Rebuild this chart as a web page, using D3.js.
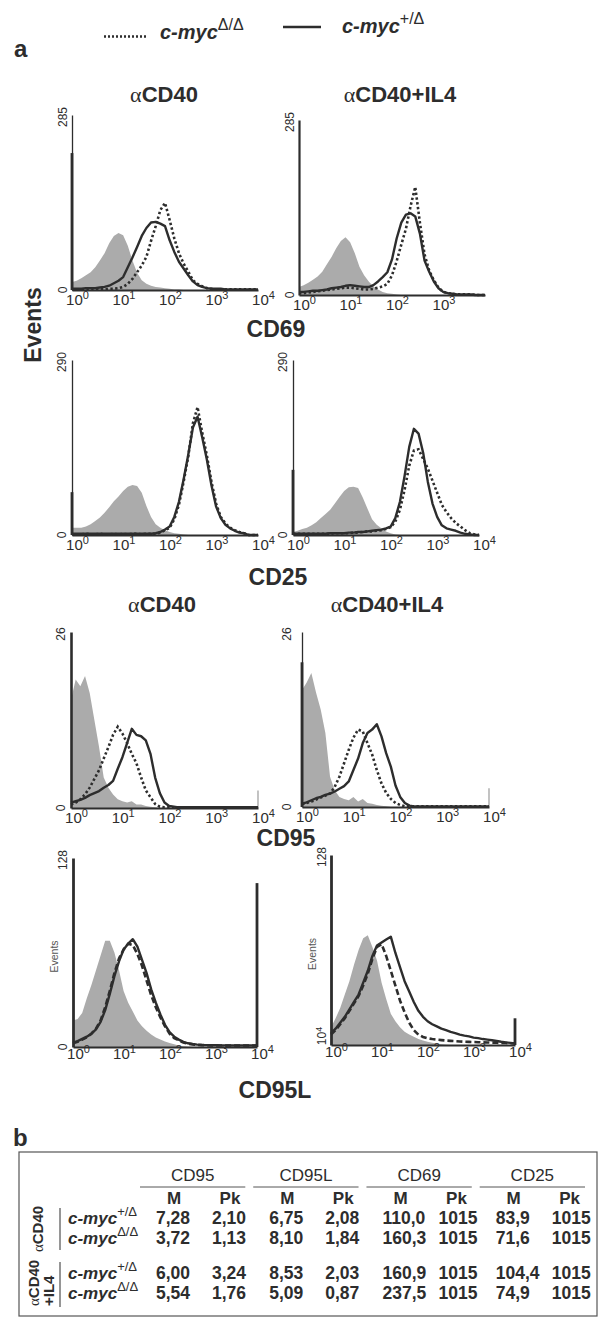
<!DOCTYPE html>
<html><head><meta charset="utf-8">
<script src="https://cdn.jsdelivr.net/npm/d3@7"></script>
<style>body{margin:0;background:#fff}svg{display:block}</style>
</head><body>
<svg id="c" width="600" height="1320"></svg>
<script>
// ---------- DATA ----------
// fluorescence channel grid (log10 units, 10^0 .. 10^4)
const logGrid = [0,0.1,0.2,0.3,0.4,0.5,0.6,0.7,0.8,0.9,1,1.1,1.2,1.3,1.4,1.5,1.6,1.7,1.8,1.9,2,2.1,2.2,2.3,2.4,2.5,2.6,2.7,2.8,2.9,3,3.1,3.2,3.3,3.4,3.5,3.6,3.7,3.8,3.9,4];
const decadeTicks = [0,1,2,3,4];
const decadeTicksNo4 = [0,1,2,3];
const conditions = ["αCD40","αCD40+IL4"];
const markers = ["CD69","CD25","CD95","CD95L"];
const genotypes = ["Δ/Δ","+/Δ"];

// CD69, αCD40
const cd69_a_iso = [13,15,19,24,29,37,48,60,76,88, 93,89,72,48,28,16,10,7,5,4, 3,2,1,1,0,0,0,0,0,0, 0,0,0,0,0,0,0,0,0,0,0];
const cd69_a_het = [2,2,2,3,3,3,4,5,7,11, 15,21,37,53,70,88,101,110,111,108, 104,81,62,46,35,24,14,8,5,3, 2,2,2,1,1,1,1,1,1,1,1];
const cd69_a_ko  = [1,1,1,1,1,1,1,1,2,2, 3,5,10,18,29,40,54,80,104,130, 142,114,84,60,43,30,16,10,6,3, 2,1,1,1,1,1,1,1,1,1,1];
// CD69, αCD40+IL4
const cd69_ai_iso = [13,16,20,25,30,38,50,62,76,88, 94,86,68,46,32,22,14,9,5,3, 2,1,0,0,0,0,0,0,0,0, 0,0,0,0,0,0,0,0,0,0,0];
const cd69_ai_het = [5,5,6,7,7,8,9,11,12,13, 15,16,15,14,13,13,16,22,29,37, 58,92,118,131,133,128,100,56,38,22, 11,5,3,2,1,1,1,1,0,0,0];
const cd69_ai_ko  = [3,3,4,5,6,7,8,9,10,11, 12,12,11,10,9,9,10,12,14,18, 32,55,82,108,145,176,118,66,40,24, 12,5,3,2,1,1,1,1,0,0,0];
// CD25, αCD40
const cd25_a_iso = [12,12,12,14,18,23,29,37,46,56, 64,73,80,83,81,70,48,30,18,12, 8,5,3,2,1,0,0,0,0,0, 0,0,0,0,0,0,0,0,0,0,0];
const cd25_a_het = [2,2,2,2,2,2,2,2,2,2, 2,2,2,2,2,2,2,2,3,5, 9,14,30,55,92,133,178,196,162,125, 82,47,28,17,11,7,4,3,0,0,0];
const cd25_a_ko  = [1,1,1,2,1,1,2,1,1,2, 1,2,1,2,2,1,2,2,2,4, 8,12,26,50,88,130,185,212,170,132, 88,52,30,19,12,8,5,3,0,0,0];
// CD25, αCD40+IL4
const cd25_ai_iso = [5,7,10,12,16,21,28,35,42,52, 63,73,79,80,78,62,44,26,17,11, 6,3,1,0,0,0,0,0,0,0, 0,0,0,0,0,0,0,0,0,0,0];
const cd25_ai_het = [2,2,2,2,2,2,2,2,3,3, 3,3,4,4,5,5,6,7,8,9, 11,14,28,55,98,146,176,168,136,88, 52,30,16,11,9,7,4,2,1,0,0];
const cd25_ai_ko  = [2,2,2,2,2,2,2,2,2,3, 3,3,3,4,4,5,6,6,7,8, 10,13,22,42,75,115,140,142,126,110, 90,70,50,38,28,20,14,8,3,1,0];
// CD95, αCD40
const cd95_a_iso = [16,19,18,19.5,17,13,9,4.5,3,2, 1.3,1,0.8,1,0.5,0.5,0.3,0.2,0.1,0, 0,0,0,0,0,0,0,0,0,0, 0,0,0,0,0,0,0,0,0,0,0];
const cd95_a_het = [0.8,1,1.2,1.5,1.9,2.2,2.5,3,3.4,4, 5.8,7.5,9.6,11.7,10.8,10.6,10,8,4.5,2.2, 0.8,0.3,0.2,0.1,0.1,0.1,0.1,0.1,0.1,0.1, 0.1,0.1,0.1,0.1,0.1,0.1,0.1,0.1,0.1,0.1,0.1];
const cd95_a_ko  = [0.5,0.8,1.3,2,3,4.3,5.6,7.3,9,10.8, 12,11,9.6,8,6.6,4.5,2.6,1.6,0.6,0.2, 0.1,0.1,0.1,0.1,0.1,0.1,0.1,0.1,0.1,0.1, 0.1,0.1,0.1,0.1,0.1,0.1,0.1,0.1,0.1,0.1,0.1];
// CD95, αCD40+IL4
const cd95_ai_iso = [17.4,18.5,19.9,17,14.5,11,4.5,2.5,1.5,1.2, 1,1.5,0.8,1.2,0.6,0.5,0.3,0.2,0.1,0, 0,0,0,0,0,0,0,0,0,0, 0,0,0,0,0,0,0,0,0,0,0];
const cd95_ai_het = [0.5,0.7,1,1.3,1.5,1.8,2,2.3,2.7,3.1, 3.8,5.5,7.2,9.5,11,11.5,12.3,10.5,8,6, 3.2,1.5,0.6,0.2,0.1,0.1,0.1,0.1,0.1,0.1, 0.1,0.1,0.1,0.1,0.1,0.1,0.1,0.1,0.1,0.1,0.1];
const cd95_ai_ko  = [0.4,0.6,0.8,1.1,1.4,1.7,2,3,4.5,6.5, 8.5,10.3,11.5,11.2,9.5,7.8,5.5,3.5,2.1,1.2, 0.6,0.3,0.1,0.1,0.1,0.1,0.1,0.1,0.1,0.1, 0.1,0.1,0.1,0.1,0.1,0.1,0.1,0.1,0.1,0.1,0.1];
// CD95L, αCD40
const cd95l_a_iso = [18,19,23,33,42,52,62,72,72,64, 52,38,30,24,18,14,11,8.5,6.5,5, 3.8,2.7,1.8,1,0.5,0.2,0,0,0,0, 0,0,0,0,0,0,0,0,0,0,0];
const cd95l_a_het = [3,4,5.5,7,9,12,17,25,36,48, 58,66,70,73,68,59,50,39,30,22, 15,10,7,5,3.5,2.5,2,1.6,1.4,1.3, 1.2,1.2,1.1,1.1,1,1,1,1,1,1,1];
const cd95l_a_ko  = [2.5,3.5,5,6.5,9,12.5,18,27,38,50, 60,66,70,69,63,55,45,35,27,20, 14,9,6,4.5,3,2.2,1.8,1.5,1.3,1.2, 1.1,1.1,1,1,1,1,1,1,1,1,1];
// CD95L, αCD40+IL4
const cd95l_ai_iso = [12,18,25,34,43,54,64,72,74,66, 57,42,31,21,16,12,9,7,5.5,4, 3,2.2,1.5,1,0.5,0.2,0,0,0,0, 0,0,0,0,0,0,0,0,0,0,0];
const cd95l_ai_het = [8,11,15,19,24,29,34,42,50,60, 67,69,71,73,62,52.5,43,36,29,23, 19,16,14,12.5,11,10,8.8,8,7,6.3, 5.8,5,4.6,4,3.6,3.2,2.7,2.2,1.8,1.4,1];
const cd95l_ai_ko  = [7,10,14,18,23,28,33,40,48,58, 66,68,60,50,40,30,22,15,10,7, 5.4,4.5,4,3.6,3.3,3,2.8,2.6,2.4,2.2, 2.1,2,1.9,1.8,1.7,1.6,1.5,1.4,1.3,1.2,1];

// full-scale event counts per panel, first-channel and last-channel pile-ups
const panelMax   = [285,285,290,290,26,26,128,128];
const firstSpike = [223,0,71,108,0,21.5,0,0];
const lastSpike  = [0,0,0,0,2.6,2.8,111,18];

// table (b)
const tableMarkers = ["CD95","CD95L","CD69","CD25"];
const tableStats = ["M","Pk"];
const tableTreatments = ["αCD40","αCD40+IL4"];
const tableGenotypes = ["+/Δ","Δ/Δ","+/Δ","Δ/Δ"];
const row_aCD40_het  = ["7,28","2,10","6,75","2,08","110,0","1015","83,9","1015"];
const row_aCD40_ko   = ["3,72","1,13","8,10","1,84","160,3","1015","71,6","1015"];
const row_aIL4_het   = ["6,00","3,24","8,53","2,03","160,9","1015","104,4","1015"];
const row_aIL4_ko    = ["5,54","1,76","5,09","0,87","237,5","1015","74,9","1015"];

// ---------- LAYOUT / STYLE ----------
const FONT = "'Liberation Sans', Arial, Helvetica, sans-serif";
const SERIF = "'Liberation Serif', 'Times New Roman', serif";
const INK = "#2d2d2d";
const GRAY = "#ababab";
const svg = d3.select("#c");

const panels = [
  {x0:72, x1:258, yT:115, yB:290, lab:63, axw:1.3, ticks:decadeTicks, tdy:15, iso:cd69_a_iso, het:cd69_a_het, ko:cd69_a_ko, dash:"2.4,2.4"},
  {x0:299,x1:485, yT:120, yB:295, lab:290,axw:2.2, ticks:decadeTicksNo4, tdy:15, iso:cd69_ai_iso, het:cd69_ai_het, ko:cd69_ai_ko, dash:"2.4,2.4"},
  {x0:72, x1:258, yT:360, yB:535, lab:62, axw:1.3, ticks:decadeTicks, tdy:15, iso:cd25_a_iso, het:cd25_a_het, ko:cd25_a_ko, dash:"2.4,2.4"},
  {x0:293,x1:479, yT:360, yB:535, lab:283,axw:1.3, ticks:decadeTicks, tdy:15, iso:cd25_ai_iso, het:cd25_ai_het, ko:cd25_ai_ko, dash:"2.4,2.4"},
  {x0:71, x1:258, yT:632, yB:808, lab:61, axw:2.6, ticks:decadeTicks, tdy:15, iso:cd95_a_iso, het:cd95_a_het, ko:cd95_a_ko, dash:"2.4,2.4"},
  {x0:302,x1:489, yT:632, yB:807, lab:287,axw:1.3, ticks:decadeTicks, tdy:15, iso:cd95_ai_iso, het:cd95_ai_het, ko:cd95_ai_ko, dash:"2.4,2.4"},
  {x0:73, x1:257, yT:858, yB:1047,lab:63, axw:2.8, ticks:decadeTicks, tdy:12, iso:cd95l_a_iso, het:cd95l_a_het, ko:cd95l_a_ko, dash:"6,3", events:54},
  {x0:331,x1:515, yT:855, yB:1045,lab:322,axw:2.8, ticks:decadeTicks, tdy:12, iso:cd95l_ai_iso, het:cd95l_ai_het, ko:cd95l_ai_ko, dash:"6,3", events:312, minLog:true}
];

function supText(sel, base, sup, o) {
  sel.append("tspan").text(base);
  sel.append("tspan").attr("dy", o.dy).attr("font-size", o.size)
     .attr("font-weight", o.w || "normal").attr("font-style", o.st || "normal").text(sup);
}

panels.forEach((p, i) => {
  const ymax = panelMax[i];
  const x = d3.scaleLinear().domain([0, 4]).range([p.x0, p.x1]);
  const y = d3.scaleLinear().domain([0, ymax]).range([p.yB, p.yT]);
  const g = svg.append("g");

  const area = d3.area().x((v, k) => x(logGrid[k])).y0(y(0)).y1(v => y(v));
  g.append("path").datum(p.iso).attr("d", area).attr("fill", GRAY);

  // last channel pile-up
  if (lastSpike[i] > 0) {
    const dark = lastSpike[i] > 10;
    g.append("line").attr("x1", x(4)).attr("x2", x(4)).attr("y1", y(0)).attr("y2", y(lastSpike[i]))
      .attr("stroke", dark ? INK : "#9a9a9a").attr("stroke-width", dark ? 2.8 : 1.2);
  }

  // axes
  const ya = d3.axisLeft(y).tickValues([]).tickSizeOuter(0);
  const gy = g.append("g").attr("transform", `translate(${p.x0},0)`).call(ya);
  gy.select(".domain").attr("stroke", INK).attr("stroke-width", p.axw);
  if (firstSpike[i] > 0) {
    g.append("line").attr("x1", x(0)).attr("x2", x(0)).attr("y1", y(0)).attr("y2", y(firstSpike[i]))
      .attr("stroke", INK).attr("stroke-width", 2.8);
  }

  const xa = d3.axisBottom(x).tickValues(p.ticks).tickSize(0).tickSizeOuter(0).tickFormat(() => "");
  const gx = g.append("g").attr("transform", `translate(0,${p.yB})`).call(xa);
  gx.select(".domain").attr("stroke", INK).attr("stroke-width", 2);
  gx.selectAll(".tick text")
    .attr("y", p.tdy).attr("dy", 0).attr("x", 5)
    .attr("font-family", FONT).attr("font-size", 15).attr("fill", INK)
    .each(function (t) { supText(d3.select(this), "10", String(t), {dy: -6, size: 11}); });

  // y labels (rotated)
  const yl = g.append("g").attr("font-family", FONT).attr("font-size", 12).attr("fill", INK).attr("text-anchor", "middle");
  yl.append("text").attr("transform", `translate(${p.lab},${y(ymax) + 2}) rotate(-90)`).attr("dy", "0.35em").text(ymax);
  const lo = yl.append("text").attr("transform", `translate(${p.lab},${y(0) - (p.minLog ? 9 : 0)}) rotate(-90)`).attr("dy", "0.35em");
  if (p.minLog) supText(lo, "10", "4", {dy: -4, size: 9}); else lo.text(0);
  if (p.events) {
    g.append("text").attr("transform", `translate(${p.events},${(p.yT + p.yB) / 2 + 4}) rotate(-90)`)
      .attr("dy", "0.35em").attr("text-anchor", "middle").attr("font-family", FONT)
      .attr("font-size", 10.5).attr("fill", "#555").text("Events");
  }

  const line = d3.line().x((v, k) => x(logGrid[k])).y(v => y(v));
  g.append("path").datum(p.ko).attr("d", line).attr("fill", "none").attr("stroke", INK)
    .attr("stroke-width", 2.6).attr("stroke-dasharray", p.dash);
  g.append("path").datum(p.het).attr("d", line).attr("fill", "none").attr("stroke", INK)
    .attr("stroke-width", 2.4).attr("stroke-linejoin", "round");
});

// ---------- TEXT: legend, titles, labels ----------
const T = svg.append("g").attr("font-family", FONT).attr("fill", INK);

// legend
T.append("line").attr("x1", 104).attr("x2", 148).attr("y1", 36.5).attr("y2", 36.5)
  .attr("stroke", INK).attr("stroke-width", 2.5).attr("stroke-dasharray", "2,2");
T.append("line").attr("x1", 283).attr("x2", 321).attr("y1", 27).attr("y2", 27)
  .attr("stroke", INK).attr("stroke-width", 2.5);
[[160, 39, genotypes[0]], [342, 33, genotypes[1]]].forEach(([lx, ly, sup]) => {
  const t = T.append("text").attr("x", lx).attr("y", ly).attr("font-size", 20)
    .attr("font-weight", "bold").attr("font-style", "italic");
  supText(t, "c-myc", sup, {dy: -9, size: 16});
});

T.append("text").attr("x", 14).attr("y", 57).attr("font-size", 24).attr("font-weight", "bold").text("a");
T.append("text").attr("x", 13).attr("y", 1146).attr("font-size", 24).attr("font-weight", "bold").text("b");

function title(cx, by, label, size) {
  const t = T.append("text").attr("x", cx).attr("y", by).attr("text-anchor", "middle").attr("font-size", size);
  t.append("tspan").attr("font-family", SERIF).text(label.slice(0, 1));
  t.append("tspan").attr("font-weight", "bold").text(label.slice(1));
  return t;
}
title(164, 102, conditions[0], 22);
title(400, 102, conditions[1], 22);
title(162, 612, conditions[0], 22);
title(387, 612, conditions[1], 22);

[[276, 337], [278, 585], [286, 846], [275, 1098]].forEach(([cx, by], k) => {
  T.append("text").attr("x", cx).attr("y", by).attr("text-anchor", "middle")
    .attr("font-size", 23).attr("font-weight", "bold").text(markers[k]);
});
T.append("text").attr("transform", "translate(33,325) rotate(-90)").attr("dy", "0.35em")
  .attr("text-anchor", "middle").attr("font-size", 23).attr("font-weight", "bold").text("Events");

// ---------- TABLE (b) ----------
const TB = svg.append("g").attr("font-family", FONT).attr("fill", INK);
TB.append("rect").attr("x", 19).attr("y", 1152).attr("width", 578).attr("height", 164)
  .attr("fill", "none").attr("stroke", "#555").attr("stroke-width", 1.2);

const grp = d3.scaleBand().domain(tableMarkers).range([140, 585]).paddingInner(0.07);
const col = d3.scaleBand().domain(tableStats).range([16, 128]);
const rowYs = [1224, 1244, 1279, 1299];

tableMarkers.forEach(m => {
  const gx0 = grp(m);
  TB.append("text").attr("x", gx0 + grp.bandwidth() / 2).attr("y", 1181).attr("text-anchor", "middle")
    .attr("font-size", 17).text(m);
  TB.append("line").attr("x1", gx0).attr("x2", gx0 + grp.bandwidth()).attr("y1", 1187).attr("y2", 1187)
    .attr("stroke", "#555").attr("stroke-width", 1);
  tableStats.forEach(s => {
    TB.append("text").attr("x", gx0 + col(s) + 18).attr("y", 1204).attr("text-anchor", "middle")
      .attr("font-size", 17).attr("font-weight", "bold").text(s);
  });
});

[row_aCD40_het, row_aCD40_ko, row_aIL4_het, row_aIL4_ko].forEach((row, r) => {
  row.forEach((v, c) => {
    const m = tableMarkers[Math.floor(c / 2)], s = tableStats[c % 2];
    TB.append("text").attr("x", grp(m) + col(s)).attr("y", rowYs[r]).attr("font-size", 17.5)
      .attr("font-weight", "bold").text(v);
  });
  const t = TB.append("text").attr("x", 68).attr("y", rowYs[r]).attr("font-size", 17)
    .attr("font-weight", "bold").attr("font-style", "italic");
  supText(t, "c-myc", tableGenotypes[r], {dy: -8, size: 13});
});

TB.append("line").attr("x1", 60).attr("x2", 60).attr("y1", 1208).attr("y2", 1250).attr("stroke", INK).attr("stroke-width", 1);
TB.append("line").attr("x1", 60).attr("x2", 60).attr("y1", 1262).attr("y2", 1307).attr("stroke", INK).attr("stroke-width", 1);

function rot(cx, cy, label, anchor) {
  const t = TB.append("text").attr("transform", `translate(${cx},${cy}) rotate(-90)`).attr("dy", "0.35em")
    .attr("text-anchor", anchor).attr("font-size", 15);
  if (label.startsWith("α")) {
    t.append("tspan").attr("font-family", SERIF).text("α");
    t.append("tspan").attr("font-weight", "bold").text(label.slice(1));
  } else t.append("tspan").attr("font-weight", "bold").text(label);
}
rot(38, 1229, tableTreatments[0], "middle");
rot(34, 1306, tableTreatments[1].slice(0, 5), "start");
rot(49, 1306, tableTreatments[1].slice(5), "start");
</script>
</body></html>
